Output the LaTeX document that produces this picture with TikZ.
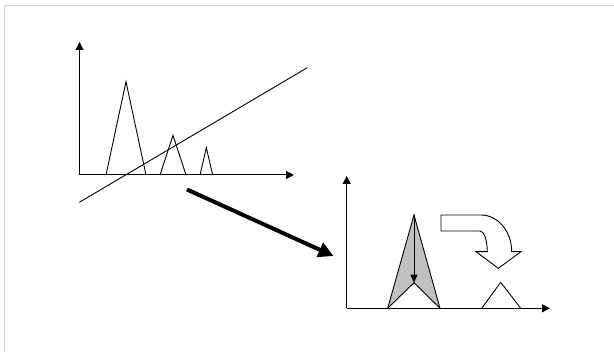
\documentclass[tikz,border=0pt]{standalone}
\usepackage{tikz}
\usetikzlibrary{arrows.meta}
\definecolor{FrameGray}{RGB}{205,205,205}
\definecolor{PeakGray}{RGB}{192,192,192}

\begin{document}
\begin{tikzpicture}[x=1pt,y=-1pt,line join=miter,
	axis/.style={line width=1pt,-{Triangle[length=8pt,width=8pt]}},
	peak/.style={line width=0.9pt}]
\useasboundingbox (0,0) rectangle (614,352);
\draw[FrameGray,line width=1.5pt] (4.5,352)--(4.5,5.5)--(614,5.5);
% left plot
\coordinate (o1) at (79.5,175);
\draw[axis] (o1)--(79.5,42);
\draw[axis] (o1)--(294,175);
\foreach \a/\b/\h in {106/146/81.7, 160/186/135.3, 200/212.7/147.7}{
	\draw[peak] (\a,175)--({(\a+\b)/2},\h)--(\b,175);
}
\coordinate (l0) at (79.3,202.3);
\coordinate (l1) at (307.3,67.7);
\draw[peak] (l0)--(l1);
% big arrow
\coordinate (s0) at (187,189.5);
\coordinate (s1) at (333.5,256);
\draw[line width=4pt,-{Triangle[length=15pt,width=15pt]}] (s0)--(s1);
% right plot
\coordinate (o2) at (346.7,308.3);
\coordinate (pL) at (387.7,308.3);
\coordinate (pT) at (414,215);
\coordinate (pR) at (440,308.3);
\coordinate (pM) at (414,282.7);
\fill[PeakGray] (pL)--(pT)--(pR)--(pM)--cycle;
\draw[peak] (pL)--(pT)--(pR);
\draw[peak] (pL)--(pM)--(pR);
\draw[line width=0.9pt,-{Triangle[length=8pt,width=7pt]}] (pT)--(pM);
\draw[peak] (481.7,308.3)--(500.7,282.3)--(520.7,308.3);
\draw[axis] (o2)--(346.7,176);
\draw[axis] (o2)--(550,308.3);
% turn arrow
\draw[peak,fill=white] (441,215)--(481,215)
	arc[start angle=270,end angle=360,x radius=30.7,y radius=36.7]
	--(521,251.7)--(498.3,268.3)--(476,251.7)--(487.3,251.7)
	arc[start angle=0,end angle=-90,x radius=7.3,y radius=20.7]
	--(441,231)--cycle;
\end{tikzpicture}
\end{document}
